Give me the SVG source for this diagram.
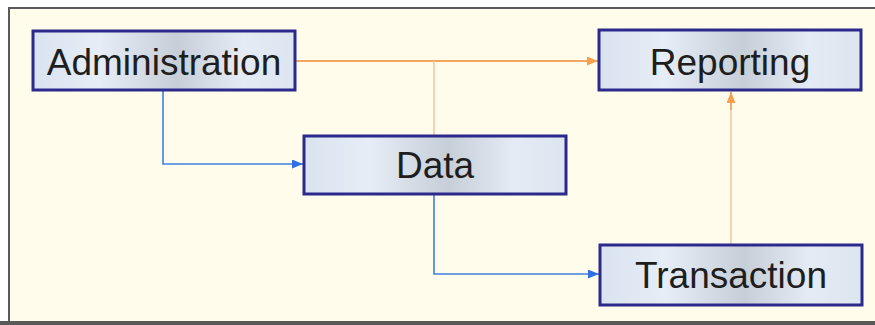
<svg xmlns="http://www.w3.org/2000/svg" width="875" height="325" viewBox="0 0 875 325">
<style>
.box{stroke:#2b2a8c;stroke-width:3;fill:url(#metal)}
.lbl{font-family:"Liberation Sans",Arial,sans-serif;font-size:37px;fill:#1e1e1e;text-anchor:middle}
.blue{stroke:#3f7fe0;stroke-width:1.6;fill:none}
.orange{stroke:#f4a560;stroke-width:1.8;fill:none}
.pale{stroke:#efc9a6;stroke-width:1.6;fill:none}
</style>
<defs>
<linearGradient id="metal" x1="0" y1="0" x2="1" y2="0">
<stop offset="0" stop-color="#d9e3ef"/>
<stop offset="0.25" stop-color="#e6edf6"/>
<stop offset="0.55" stop-color="#c6ced7"/>
<stop offset="0.8" stop-color="#e4ebf4"/>
<stop offset="1" stop-color="#dce5f0"/>
</linearGradient>
<marker id="ab" markerWidth="11" markerHeight="9" refX="11" refY="4.5" orient="auto" markerUnits="userSpaceOnUse">
<path d="M0,0 L11,4.5 L0,9 Z" fill="#2f6fe0"/>
</marker>
<marker id="ao" markerWidth="11" markerHeight="9" refX="11" refY="4.5" orient="auto" markerUnits="userSpaceOnUse">
<path d="M0,0 L11,4.5 L0,9 Z" fill="#f4a050"/>
</marker>
</defs>
<rect x="0" y="0" width="875" height="325" fill="#ffffff"/>
<rect x="9" y="8" width="870" height="314" fill="#fffcec" stroke="#5a5a5a" stroke-width="2"/>
<rect x="0" y="321" width="875" height="4" fill="#5a5a5a"/>
<g id="connectors">
<path class="orange" d="M295,61 H598" marker-end="url(#ao)"/>
<path class="pale" d="M434,136 V61"/>
<path class="blue" d="M163,90 V164 H303" marker-end="url(#ab)"/>
<path class="blue" d="M434,194 V274 H599" marker-end="url(#ab)"/>
<path class="pale" d="M731,245 V92"/>
<path class="orange" d="M731,110 V92" marker-end="url(#ao)"/>
</g>
<g id="administration">
<rect class="box" x="33" y="31" width="262" height="59"/>
<text class="lbl" x="164" y="75">Administration</text>
</g>
<g id="reporting">
<rect class="box" x="599" y="30" width="262" height="60"/>
<text class="lbl" x="730" y="75">Reporting</text>
</g>
<g id="data">
<rect class="box" x="304" y="136" width="262" height="58"/>
<text class="lbl" x="435" y="178">Data</text>
</g>
<g id="transaction">
<rect class="box" x="600" y="245" width="262" height="60"/>
<text class="lbl" x="731" y="288">Transaction</text>
</g>
</svg>
